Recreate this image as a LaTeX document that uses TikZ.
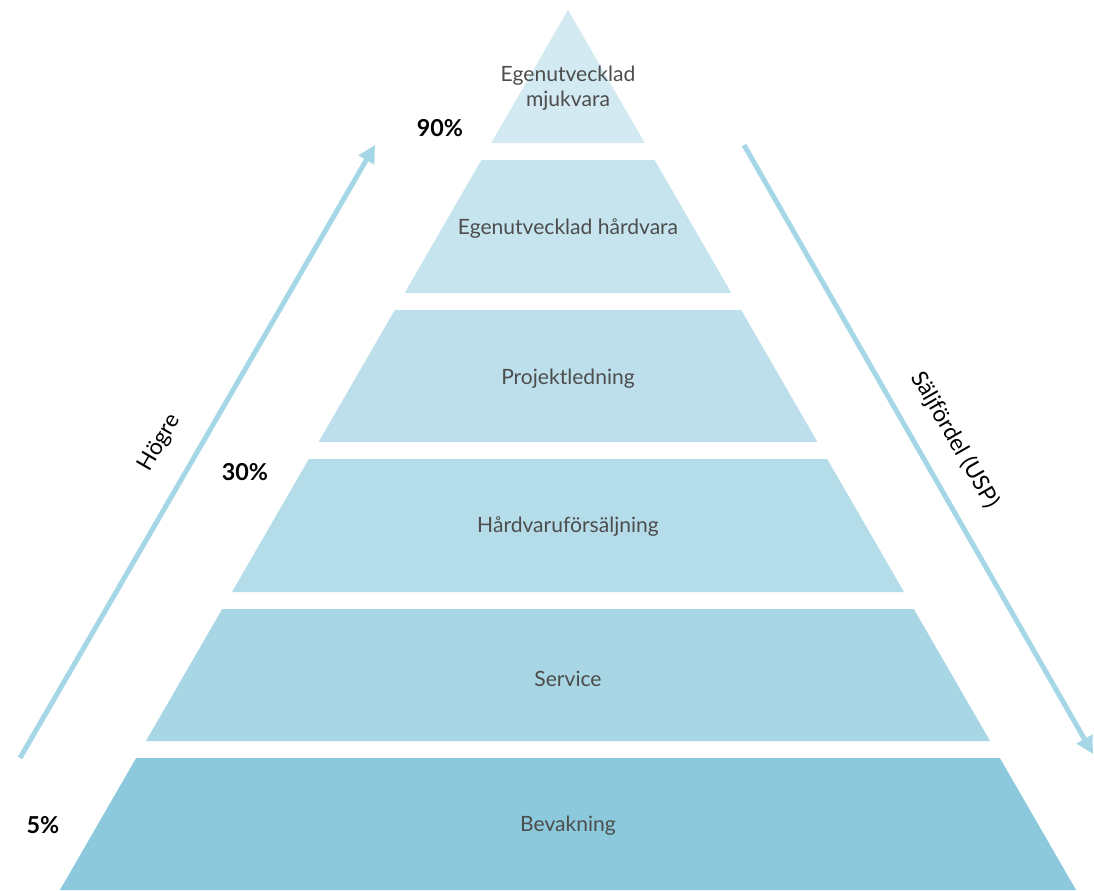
\documentclass[tikz,border=0pt]{standalone}
\usepackage{fontspec}
\setmainfont{Lato}
\usetikzlibrary{arrows.meta}
\definecolor{tierA}{HTML}{D4EAF2}
\definecolor{tierB}{HTML}{C6E4EE}
\definecolor{tierC}{HTML}{BCDFEB}
\definecolor{tierD}{HTML}{B5DCE9}
\definecolor{tierE}{HTML}{A9D6E5}
\definecolor{tierF}{HTML}{8CC9DD}
\definecolor{arrowblue}{HTML}{A6D7E7}
\definecolor{tiertext}{HTML}{4D4D4D}
\begin{document}
\begin{tikzpicture}[x=0.75pt,y=-0.75pt,
		tierlabel/.style={text=tiertext, align=center, font=\fontsize{15.8}{19}\selectfont},
		pct/.style={text=black, font=\fontsize{17.5}{20}\selectfont\bfseries},
		sidelabel/.style={text=black, font=\fontsize{17}{20}\selectfont},
		bigarrow/.style={arrowblue, line width=3.75pt, -{Triangle[length=13pt,width=13pt]}}]
		\useasboundingbox (0,0) rectangle (1094,890);
		% pyramid, all slices of one 60 degree triangle with apex at (568,10)
		\fill[tierA] (568,10) -- ({568+(143-10)*0.57735},143) -- ({568-(143-10)*0.57735},143) -- cycle;
		\foreach \ya/\yb/\col in {160/293/tierB, 310/442/tierC, 459/592/tierD, 609/741/tierE, 758/890/tierF}
			\fill[\col] ({568-(\ya-10)*0.57735},\ya) -- ({568+(\ya-10)*0.57735},\ya)
				-- ({568+(\yb-10)*0.57735},\yb) -- ({568-(\yb-10)*0.57735},\yb) -- cycle;
		\node[tierlabel] (mjuk) at (568,88) {Egenutvecklad\\mjukvara};
		\node[tierlabel] (hard) at (568,229) {Egenutvecklad hårdvara};
		\node[tierlabel] (proj) at (568,379) {Projektledning};
		\node[tierlabel] (hfs) at (568,526) {Hårdvaruförsäljning};
		\node[tierlabel] (serv) at (568,679) {Service};
		\node[tierlabel] (bev) at (568,826) {Bevakning};
		% percentages
		\node[pct] (p90) at (440,128) {90\%};
		\node[pct] (p30) at (245,472) {30\%};
		\node[pct] (p5) at (43,825) {5\%};
		% side arrows
		\coordinate (hstart) at (20,758);
		\coordinate (hend) at (375,145);
		\coordinate (ustart) at (744,145);
		\coordinate (uend) at (1093,754);
		\draw[bigarrow] (hstart) -- (hend);
		\draw[bigarrow] (ustart) -- (uend);
		\node[sidelabel, rotate=60] (hogre) at (160,443) {Högre};
		\node[sidelabel, rotate=-60] (usp) at (955,440) {Säljfördel (USP)};
	\end{tikzpicture}
\end{document}
